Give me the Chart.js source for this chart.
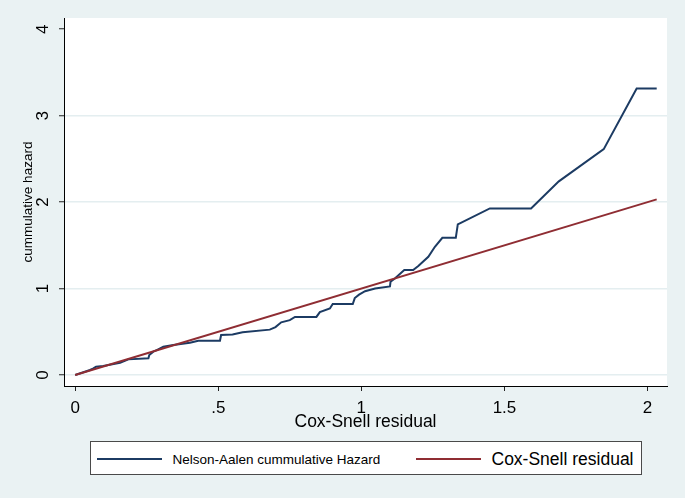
<!DOCTYPE html>
<html><head><meta charset="utf-8">
<script src="https://cdn.jsdelivr.net/npm/chart.js@4"></script>
<style>
html,body{margin:0;padding:0;background:#eaf2f3;}
#wrap{position:relative;width:685px;height:498px;background:#eaf2f3;overflow:hidden;}
#c{position:absolute;left:0;top:0;}
#legend{position:absolute;left:90px;top:441px;width:552px;height:34px;box-sizing:border-box;border:1px solid #4a4a4a;background:#fff;font-family:"Liberation Sans",Arial,sans-serif;color:#000;}
.sw{position:absolute;height:2px;width:65px;}
.lt{position:absolute;white-space:nowrap;line-height:1;}
</style></head><body>
<div id="wrap"><canvas id="c" width="685" height="498"></canvas><div id="legend"></div></div>
<script>
// Nelson-Aalen cumulative hazard vs Cox-Snell residual
const naResidual = [0, 0.052, 0.062, 0.073, 0.098, 0.157, 0.186, 0.256, 0.259, 0.273, 0.285, 0.308, 0.343, 0.401, 0.43, 0.506,
  0.51, 0.55, 0.585, 0.68, 0.70, 0.72, 0.75, 0.768, 0.843, 0.855, 0.89, 0.90, 0.97, 0.977, 0.992, 1.013, 1.048, 1.10,
  1.102, 1.117, 1.15, 1.181, 1.199, 1.234, 1.257, 1.283, 1.33, 1.337, 1.449, 1.593, 1.69, 1.847, 1.962, 2.032];
const naHazard = [0, 0.058, 0.075, 0.096, 0.104, 0.142, 0.181, 0.193, 0.231, 0.27, 0.289, 0.327, 0.347, 0.373, 0.397, 0.397,
  0.462, 0.468, 0.495, 0.525, 0.555, 0.61, 0.635, 0.672, 0.672, 0.728, 0.77, 0.822, 0.822, 0.89, 0.93, 0.97, 1.0, 1.025,
  1.08, 1.117, 1.214, 1.214, 1.26, 1.368, 1.483, 1.587, 1.587, 1.742, 1.927, 1.927, 2.24, 2.613, 3.314, 3.314];
const refResidual = [0, 2.032];
const refHazard = [0, 2.032];
const xTickValues = [0, 0.5, 1, 1.5, 2];
const xTickLabels = ['0', '.5', '1', '1.5', '2'];
const yTickValues = [0, 1, 2, 3, 4];
const yTickLabels = ['0', '1', '2', '3', '4'];
const seriesNames = ['Nelson-Aalen cummulative Hazard', 'Cox-Snell residual'];
const seriesColors = ['#1c3b63', '#8f2d33'];
const xTitle = 'Cox-Snell residual';
const yTitle = 'cummulative hazard';

const FONT = '"Liberation Sans", Arial, sans-serif';

const plotBg = {
  id: 'plotBg',
  beforeDraw(chart) {
    const {ctx, chartArea: a} = chart;
    ctx.save();
    ctx.fillStyle = '#ffffff';
    ctx.fillRect(a.left, a.top, a.right - a.left, a.bottom - a.top);
    ctx.restore();
  }
};

const chart = new Chart(document.getElementById('c'), {
  type: 'scatter',
  data: {
    datasets: [
      {
        label: seriesNames[0],
        data: naResidual.map((x, i) => ({x, y: naHazard[i]})),
        showLine: true, borderColor: seriesColors[0], backgroundColor: seriesColors[0],
        borderWidth: 2, pointRadius: 0, tension: 0, order: 2
      },
      {
        label: seriesNames[1],
        data: refResidual.map((x, i) => ({x, y: refHazard[i]})),
        showLine: true, borderColor: seriesColors[1], backgroundColor: seriesColors[1],
        borderWidth: 2, pointRadius: 0, tension: 0, order: 1
      }
    ]
  },
  options: {
    responsive: false, animation: false, devicePixelRatio: 1,
    layout: {padding: {left: 0, right: 18, top: 18, bottom: 64}},
    plugins: {legend: {display: false}, tooltip: {enabled: false}},
    scales: {
      x: {
        type: 'linear', position: 'bottom', min: -0.039, max: 2.068,
        afterBuildTicks: s => { s.ticks = xTickValues.map(v => ({value: v})); },
        afterFit: s => { s.height = 48; s.paddingLeft = 0; s.paddingRight = 0; },
        grid: {drawOnChartArea: false, drawTicks: true, tickLength: 5, tickColor: '#222', tickWidth: 1},
        border: {display: true, color: '#000', width: 1},
        ticks: {callback: (v, i) => xTickLabels[i], autoSkip: false, maxRotation: 0, minRotation: 0, padding: 7,
          color: '#000', font: {family: FONT, size: 17}},
        title: {display: true, text: xTitle, color: '#000', font: {family: FONT, size: 17.5}, padding: {top: 0, bottom: 1.5}}
      },
      y: {
        type: 'linear', position: 'left', min: -0.127, max: 4.13,
        afterBuildTicks: s => { s.ticks = yTickValues.map(v => ({value: v})); },
        afterFit: s => { s.width = 64; s.paddingTop = 0; s.paddingBottom = 0; },
        grid: {
          drawOnChartArea: true, drawTicks: true, tickLength: 5, tickColor: '#222', tickWidth: 1,
          color: c => (c.tick && c.tick.value < 4) ? '#e4eef0' : 'rgba(0,0,0,0)', lineWidth: 1.5
        },
        border: {display: true, color: '#000', width: 1},
        ticks: {callback: (v, i) => yTickLabels[i], autoSkip: false, minRotation: 90, maxRotation: 90,
          crossAlign: 'center', padding: 11, color: '#000', font: {family: FONT, size: 17}},
        title: {display: true, text: yTitle, color: '#000', font: {family: FONT, size: 13.5}, padding: {top: 20, bottom: 0}}
      }
    }
  },
  plugins: [plotBg]
});

// Legend built from the chart datasets
const legendLayout = [
  {sw: 6, txt: 81.5, size: 13.5},
  {sw: 325, txt: 400.5, size: 17.5}
];
const lg = document.getElementById('legend');
chart.data.datasets.forEach((ds, i) => {
  const L = legendLayout[i];
  const sw = document.createElement('div');
  sw.className = 'sw';
  sw.style.left = L.sw + 'px';
  sw.style.top = '16px';
  sw.style.background = ds.borderColor;
  lg.appendChild(sw);
  const t = document.createElement('div');
  t.className = 'lt';
  t.style.left = L.txt + 'px';
  t.style.fontSize = L.size + 'px';
  t.style.top = (17.5 - L.size / 2) + 'px';
  t.textContent = ds.label;
  lg.appendChild(t);
});
</script>
</body></html>
